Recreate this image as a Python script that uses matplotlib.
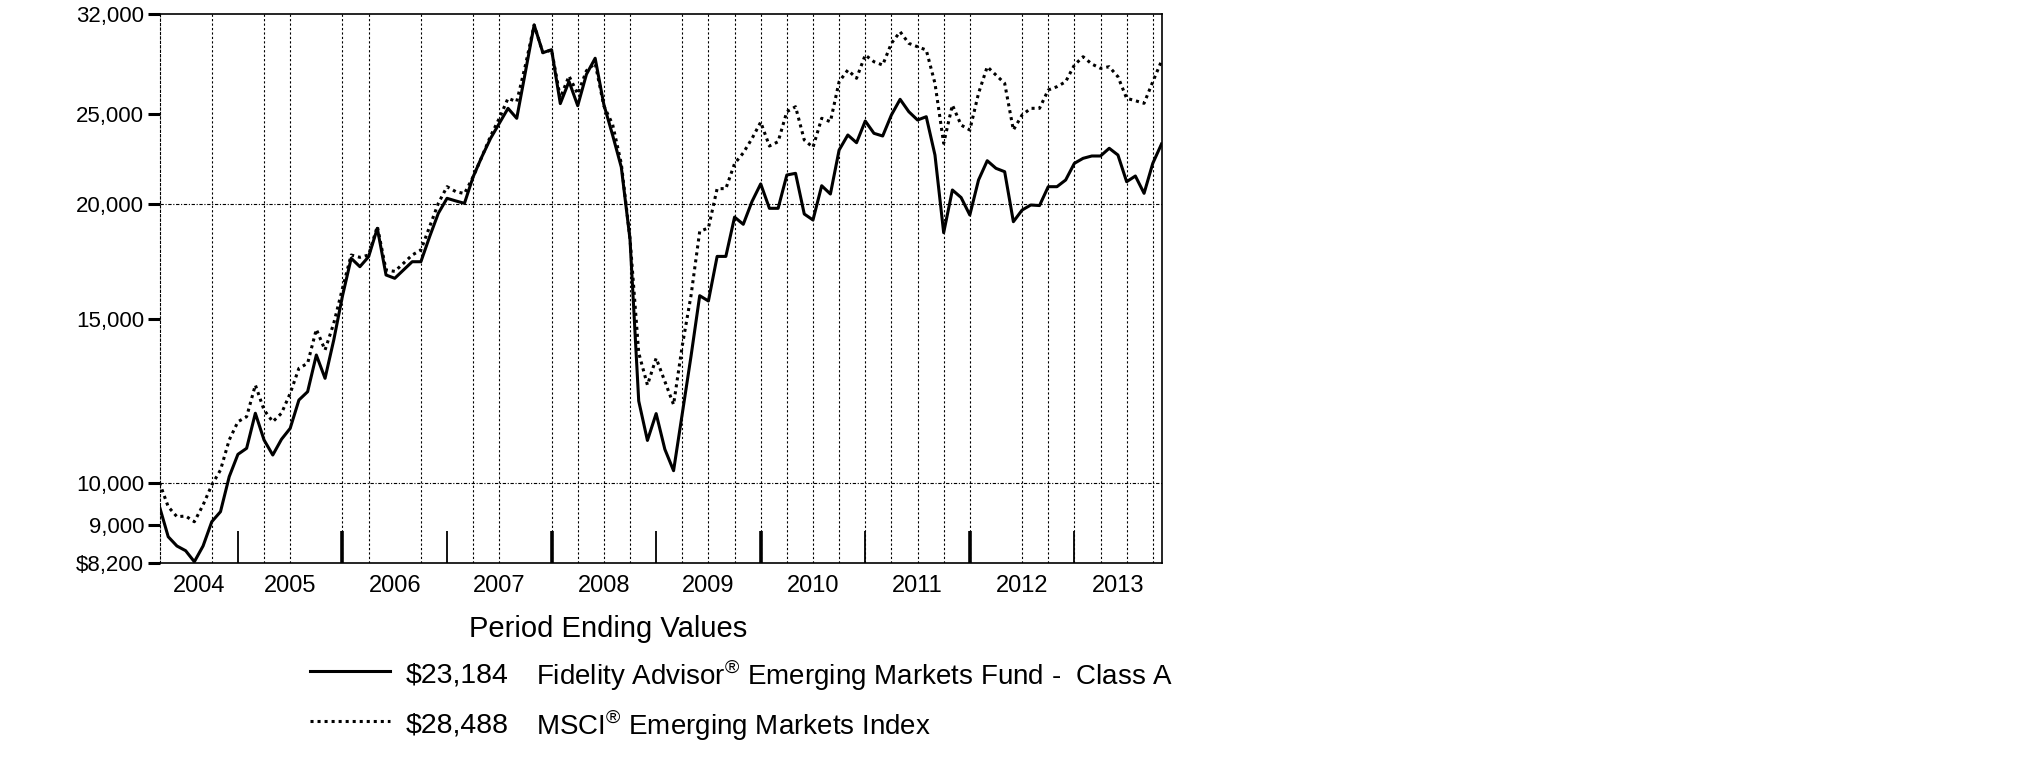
import numpy as np
import matplotlib
matplotlib.use("Agg")
import matplotlib.pyplot as plt
from matplotlib.lines import Line2D
from matplotlib.ticker import FixedLocator, NullLocator

plt.rcParams['font.family'] = ['Liberation Sans', 'DejaVu Sans']
plt.rcParams['mathtext.fontset'] = 'custom'
plt.rcParams['mathtext.rm'] = 'Liberation Sans'

# monthly values, first point = start of the chart
fund = [9425, 8746, 8547, 8448, 8220, 8547, 9078, 9307, 10151, 10731,
        10893, 11883, 11120, 10713, 11139, 11447, 12280, 12536, 13732, 12960,
        14254, 15900, 17457, 17098, 17527, 18808, 16749, 16612, 16958, 17310,
        17310, 18419, 19520, 20261, 20130, 20011, 21377, 22465, 23515, 24406,
        25332, 24712, 27743, 31152, 29084, 29300, 25631, 27081, 25498, 27564,
        28685, 25567, 23709, 21892, 18300, 12250, 11108, 11873, 10866, 10304,
        11873, 13684, 15910, 15702, 17540, 17540, 19337, 18995, 20100, 21000,
        19764, 19764, 21467, 21558, 19487, 19199, 20904, 20478, 22841, 23709,
        23260, 24547, 23808, 23650, 24915, 25905, 25120, 24608, 24810, 22560,
        18603, 20684, 20300, 19439, 21203, 22243, 21827, 21644, 19117, 19680,
        19927, 19900, 20854, 20854, 21203, 22099, 22375, 22505, 22505, 22940,
        22560, 21114, 21414, 20514, 22099, 23184]

index = [10000, 9423, 9192, 9207, 9078, 9463, 9944, 10322, 11120, 11636,
         11782, 12746, 11979, 11636, 11883, 12486, 13286, 13452, 14637, 13903,
         14857, 16203, 17600, 17500, 17600, 18900, 16958, 16900, 17242, 17600,
         17821, 18881, 20011, 20854, 20600, 20500, 21377, 22465, 23650, 24712,
         25970, 25753, 28200, 31152, 29084, 29279, 26000, 27450, 26254, 27810,
         28330, 25480, 24348, 22083, 18332, 13804, 12746, 13623, 12860, 12141,
         14052, 15910, 18663, 18826, 20754, 20754, 22083, 22679, 23500, 24480,
         23070, 23318, 25120, 25433, 23417, 22994, 24712, 24505, 27062, 27858,
         27294, 28917, 28438, 28206, 29766, 30638, 29766, 29516, 29279, 26955,
         23225, 25540, 24303, 24005, 26294, 28088, 27516, 26955, 24005, 24915,
         25332, 25332, 26511, 26730, 27062, 28206, 28794, 28278, 27977, 28088,
         27400, 25970, 25816, 25650, 27062, 28488]

years = ['2004', '2005', '2006', '2007', '2008', '2009', '2010', '2011', '2012', '2013']
year_breaks = [9, 21, 33, 45, 57, 69, 81, 93, 105]   # month index where a new year starts
grid_months = [6, 12, 15, 21, 24, 30, 36, 39, 45, 48, 51, 54, 60, 63, 66, 69, 72,
               75, 78, 81, 84, 87, 90, 93, 99, 102, 105, 108, 111, 114]

y_ticks = [8200, 9000, 10000, 15000, 20000, 25000, 32000]
y_labels = ['$8,200', '9,000', '10,000', '15,000', '20,000', '25,000', '32,000']

fund_label = '$23,184'
index_label = '$28,488'
fund_name = 'Fidelity Advisor$^{®}$ Emerging Markets Fund -  Class A'
index_name = 'MSCI$^{®}$ Emerging Markets Index'

W, H = 2025, 773
fig = plt.figure(figsize=(W / 100, H / 100), dpi=100)
ax = fig.add_axes([159.5 / W, 1 - 562.7 / H, 1002 / W, 548.5 / H])

x = np.arange(len(fund))
ax.plot(x, index, color='black', lw=2.2, linestyle=(0, (1.0, 1.3)), zorder=3)
ax.plot(x, fund, color='black', lw=2.2, zorder=4)

ax.set_yscale('log')
ax.set_ylim(8200, 32000)
ax.set_xlim(0, len(fund) - 1)

ax.yaxis.set_major_locator(FixedLocator(y_ticks))
ax.yaxis.set_minor_locator(NullLocator())
ax.set_yticklabels(y_labels)
ax.tick_params(axis='y', direction='out', length=9, width=2.2, labelsize=16, pad=2)

# grid
for g in grid_months:
    ax.axvline(g, color='black', lw=0.8, linestyle=(0, (2, 2)), zorder=1)
for v in [10000, 20000]:
    ax.axhline(v, color='black', lw=0.8, linestyle=(0, (3, 1.5, 1, 1.5)), zorder=1)

# year boundary ticks (alternate thick / thin)
ax.xaxis.set_major_locator(FixedLocator(year_breaks))
ax.xaxis.set_major_formatter(plt.NullFormatter())
ax.tick_params(axis='x', which='major', direction='in', length=23, width=1.3)
for i, t in enumerate(ax.xaxis.get_major_ticks()):
    if i % 2 == 1:
        t.tick1line.set_markeredgewidth(2.6)

edges = [0] + year_breaks + [len(fund) - 1]
centers = [(a + b) / 2 for a, b in zip(edges[:-1], edges[1:])]
ax.xaxis.set_minor_locator(FixedLocator(centers))
ax.set_xticklabels(years, minor=True)
ax.tick_params(axis='x', which='minor', length=0, labelsize=17, pad=9)

for s in ['top', 'right', 'bottom']:
    ax.spines[s].set_linewidth(1.2)
ax.spines['left'].set_linewidth(0.8)
ax.spines['left'].set_linestyle((0, (2, 2)))

# legend area
fig.text(608 / W, 1 - 629 / H, 'Period Ending Values', fontsize=21, ha='center', va='center')
rows = [(675, '-', fund_label, fund_name), (725, (0, (1.0, 1.3)), index_label, index_name)]
for yy, ls, val, name in rows:
    fig.add_artist(Line2D([310 / W, 390 / W], [1 - (yy - 4) / H] * 2, color='black',
                          lw=2.2, linestyle=ls, transform=fig.transFigure))
    fig.text(406 / W, 1 - yy / H, val, fontsize=20.5, ha='left', va='center')
    fig.text(536 / W, 1 - yy / H, name, fontsize=20, ha='left', va='center')

fig.savefig('out.png', dpi=100, facecolor='white')
